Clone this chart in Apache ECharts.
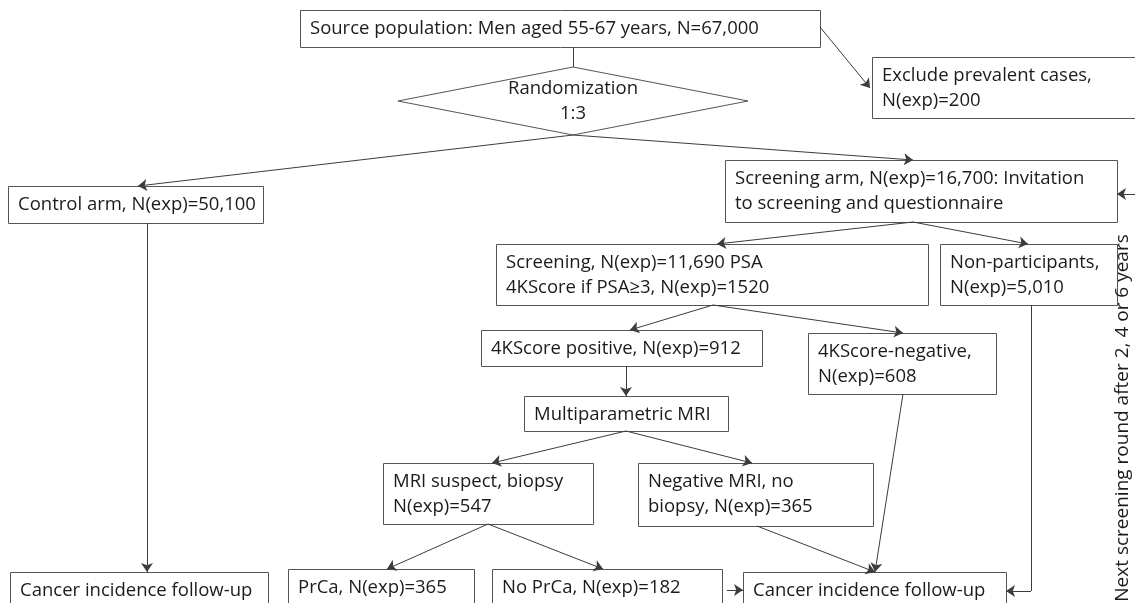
<!DOCTYPE html>
<html>
<head>
<meta charset="utf-8">
<script src="https://cdn.jsdelivr.net/npm/echarts@6/dist/echarts.min.js"></script>
<style>
html,body{margin:0;padding:0;background:#fff;}
#chart{width:1135px;height:603px;}
</style>
</head>
<body>
<div id="chart"></div>
<script>
// ---- flowchart content ----
var boxLabels = [
  "Source population: Men aged 55-67 years, N=67,000",
  "Exclude prevalent cases,\nN(exp)=200",
  "Control arm, N(exp)=50,100",
  "Screening arm, N(exp)=16,700: Invitation\nto screening and questionnaire",
  "Screening, N(exp)=11,690 PSA\n4KScore if PSA\u22653, N(exp)=1520",
  "Non-participants,\nN(exp)=5,010",
  "4KScore positive, N(exp)=912",
  "4KScore-negative,\nN(exp)=608",
  "Multiparametric MRI",
  "MRI suspect, biopsy\nN(exp)=547",
  "Negative MRI, no\nbiopsy, N(exp)=365",
  "Cancer incidence follow-up",
  "PrCa, N(exp)=365",
  "No PrCa, N(exp)=182",
  "Cancer incidence follow-up"
];
// box extents [left, top, right, bottom] in diagram units
var boxExtents = [
  [300, 10, 820, 47],
  [872, 57, 1145, 118],
  [8, 186, 263, 223],
  [725, 160, 1117, 222],
  [496, 244, 928, 305],
  [940, 244, 1117, 305],
  [481, 330, 762, 366],
  [808, 333, 996, 394],
  [524, 396, 728, 431],
  [383, 463, 593, 524],
  [638, 463, 873, 526],
  [10, 572, 268, 620],
  [288, 569, 474, 620],
  [492, 569, 722, 620],
  [743, 572, 1006, 620]
];
var decisionLabel = "Randomization\n1:3";
var decisionExtent = [398, 67, 748, 135];
// connectors [x1, y1, x2, y2, hasArrow]
var connectors = [
  [820, 27, 870, 88, 1],
  [573, 47, 573, 67, 0],
  [573, 135, 138, 186, 1],
  [573, 135, 913, 160, 1],
  [1140, 194, 1117, 194, 1],
  [913, 222, 717, 244, 1],
  [913, 222, 1028, 244, 1],
  [147, 223, 147, 572, 1],
  [713, 305, 630, 330, 1],
  [713, 305, 903, 333, 1],
  [626, 366, 626, 396, 1],
  [626, 431, 492, 463, 1],
  [626, 431, 752, 463, 1],
  [488, 524, 387, 569, 1],
  [488, 524, 603, 569, 1],
  [757, 526, 875, 572, 1],
  [903, 394, 875, 572, 1],
  [727, 590, 743, 590, 1],
  [1031, 305, 1031, 591, 0],
  [1031, 591, 1006, 591, 1]
];
var sideNote = "Next screening round after 2, 4 or 6 years";
var sideNotePos = [1123, 418];

var FONT = '"Open Sans", Lato, sans-serif';
var FSIZE = 18.5;
var LINE = '#3c3c3c';
var TEXT = '#1b1b1b';

var chart = echarts.init(document.getElementById('chart'), null, {renderer: 'canvas'});

var boxData = boxExtents.map(function (e, i) { return e.concat([i]); });

var arrowLines = connectors.filter(function (c) { return c[4]; }).map(function (c) {
  return {coords: [[c[0], c[1]], [c[2], c[3]]]};
});
var plainLines = connectors.filter(function (c) { return !c[4]; }).map(function (c) {
  return {coords: [[c[0], c[1]], [c[2], c[3]]]};
});

var option = {
  animation: false,
  backgroundColor: '#fff',
  grid: {left: 0, right: 0, top: 0, bottom: 0},
  xAxis: {type: 'value', min: 0, max: 1135, show: false},
  yAxis: {type: 'value', min: 0, max: 603, inverse: true, show: false},
  series: [
    {
      type: 'custom',
      coordinateSystem: 'cartesian2d',
      clip: false,
      data: boxData,
      renderItem: function (params, api) {
        var p0 = api.coord([api.value(0), api.value(1)]);
        var p1 = api.coord([api.value(2), api.value(3)]);
        var idx = api.value(4);
        return {
          type: 'group',
          children: [
            {
              type: 'rect',
              shape: {x: p0[0] + 0.5, y: p0[1] + 0.5, width: p1[0] - p0[0], height: p1[1] - p0[1]},
              style: {fill: '#fff', stroke: '#555', lineWidth: 1}
            },
            {
              type: 'text',
              x: p0[0] + 10,
              y: p0[1] + 6,
              style: {
                text: boxLabels[idx],
                font: FSIZE + 'px ' + FONT,
                fill: TEXT,
                align: 'left',
                verticalAlign: 'top',
                lineHeight: 25
              }
            }
          ]
        };
      },
      z: 2
    },
    {
      type: 'custom',
      coordinateSystem: 'cartesian2d',
      clip: false,
      data: [decisionExtent],
      renderItem: function (params, api) {
        var a = api.coord([api.value(0), api.value(1)]);
        var b = api.coord([api.value(2), api.value(3)]);
        var cx = (a[0] + b[0]) / 2, cy = (a[1] + b[1]) / 2;
        return {
          type: 'group',
          children: [
            {
              type: 'polygon',
              shape: {points: [[cx, a[1]], [b[0], cy], [cx, b[1]], [a[0], cy]]},
              style: {fill: '#fff', stroke: '#555', lineWidth: 1}
            },
            {
              type: 'text',
              x: cx, y: cy,
              style: {
                text: decisionLabel, font: FSIZE + 'px ' + FONT, fill: TEXT,
                align: 'center', verticalAlign: 'middle', lineHeight: 25
              }
            }
          ]
        };
      },
      z: 2
    },
    {
      type: 'custom',
      coordinateSystem: 'cartesian2d',
      clip: false,
      data: [sideNotePos],
      renderItem: function (params, api) {
        var p = api.coord([api.value(0), api.value(1)]);
        return {
          type: 'text',
          x: p[0], y: p[1],
          rotation: Math.PI / 2,
          style: {
            text: sideNote, font: '19px ' + FONT, fill: TEXT,
            align: 'center', verticalAlign: 'middle'
          }
        };
      },
      z: 3
    },
    {
      type: 'lines',
      coordinateSystem: 'cartesian2d',
      data: arrowLines,
      symbol: ['none', 'arrow'],
      symbolSize: [0, 9],
      lineStyle: {color: LINE, width: 1, opacity: 1},
      z: 4
    },
    {
      type: 'lines',
      coordinateSystem: 'cartesian2d',
      data: plainLines,
      symbol: ['none', 'none'],
      lineStyle: {color: LINE, width: 1, opacity: 1},
      z: 4
    }
  ]
};
chart.setOption(option);
</script>
</body>
</html>
